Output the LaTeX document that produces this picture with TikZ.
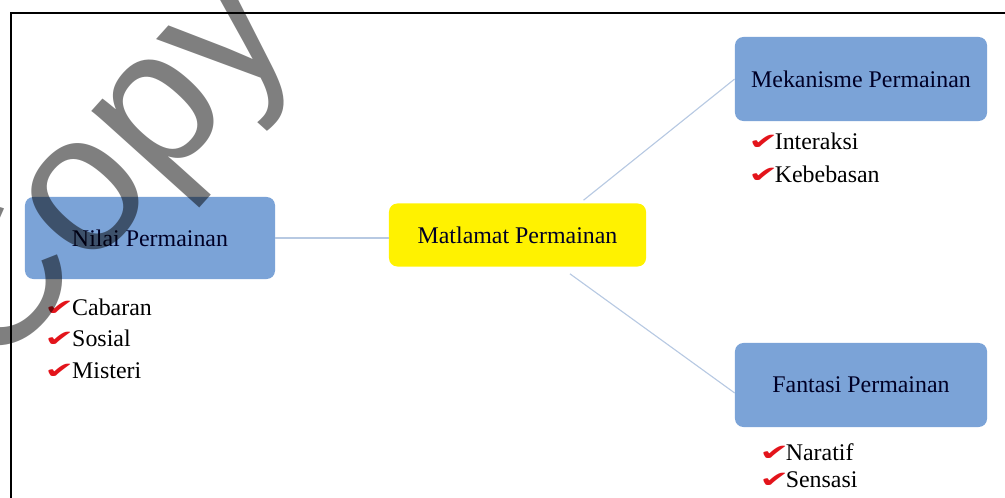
\documentclass[tikz,border=0pt]{standalone}
\usepackage{fontspec}
\setmainfont{Liberation Serif}
\newfontfamily\checkfont{DejaVu Sans}
\newfontfamily\markfont{Liberation Sans}
\usepackage{xcolor}
\usetikzlibrary{positioning}
\definecolor{boxblue}{HTML}{7BA3D7}
\definecolor{linkblue}{HTML}{B7C9E2}
\definecolor{checkred}{HTML}{E3141B}
\newcommand{\tick}{{\checkfont\color{checkred}\scalebox{1.5}[0.95]{✔}}\hspace{-2.5pt}}
\tikzset{
    topic-box/.style = {fill=boxblue, rounded corners=6pt, minimum width=6.3cm, minimum height=2.1cm, font=\fontsize{17}{20}\selectfont, text=black!85!blue},
    goal-box/.style = {topic-box, fill=yellow, minimum width=6.425cm, minimum height=1.575cm},
    item-list/.style = {align=left, anchor=base west, inner sep=0pt, font=\fontsize{17}{22.4}\selectfont},
    link-line/.style = {draw=linkblue, line width=0.8pt},
    watermark/.style = {font=\markfont\fontsize{140}{140}\selectfont, text=black, text opacity=0.5, inner sep=0pt},
}

\begin{document}
\begin{tikzpicture}[x=0.025cm, y=-0.025cm]
\useasboundingbox (0,0) rectangle (1005,498);
\clip (0,0) rectangle (1005,498);
\draw[line width=1.4pt] (11,498) -- (11,13) -- (1005,13);

\node[topic-box, minimum width=6.25cm, minimum height=2.05cm] (nilai) at (150,238) {Nilai Permainan};
\node[goal-box] (matlamat) at (517.5,235) {Matlamat Permainan};
\node[topic-box] (mekanisme) at (861,79) {Mekanisme Permainan};
\node[topic-box] (fantasi) at (861,385) {Fantasi Permainan};

% lists hang from the baseline of their last line
\node[item-list] (nilai-list) at (44,378) {\tick\hspace{1pt}Cabaran\\ \tick\hspace{1pt}Sosial\\ \tick\hspace{1pt}Misteri};
\node[item-list, font=\fontsize{17}{24}\selectfont] (mekanisme-list) at (748,183) {\tick Interaksi\\ \tick Kebebasan};
\node[item-list, font=\fontsize{17}{19.2}\selectfont] (fantasi-list) at (759,487) {\tick Naratif\\ \tick Sensasi};

\draw[link-line] (nilai.east) -- (nilai.east -| matlamat.west);
\draw[link-line] ([xshift=1.65cm, yshift=0.075cm]matlamat.north) -- (mekanisme.west);
\draw[link-line] ([xshift=1.31cm, yshift=-0.175cm]matlamat.south) -- ([yshift=-0.2cm]fantasi.west);

\node[watermark, rotate=48, anchor=base west] (copy-mark) at (-8,378) {Copy};
\end{tikzpicture}
\end{document}
